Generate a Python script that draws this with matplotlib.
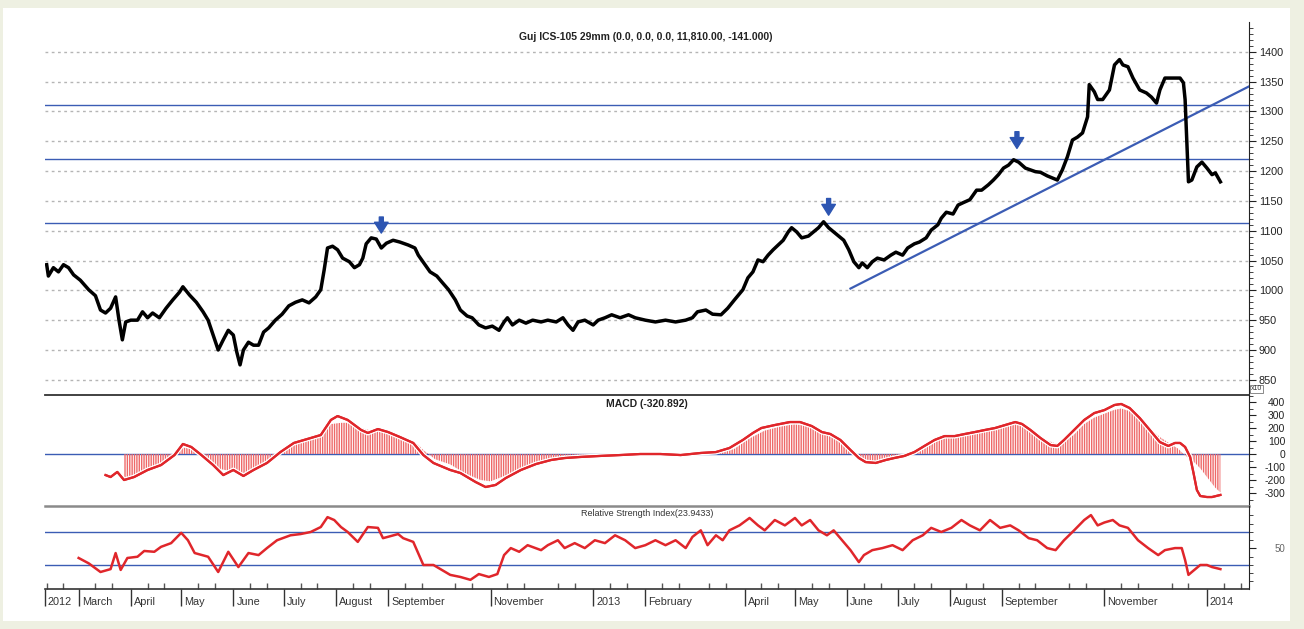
import numpy as np
import pandas as pd
import matplotlib
matplotlib.use('Agg')
import matplotlib.pyplot as pl
import matplotlib.dates as mdates
import matplotlib.patheffects as pe
import matplotlib.transforms as mtransforms
from matplotlib import font_manager
from matplotlib.patches import Rectangle

# day 0 of the chart
start = pd.Timestamp('2012-02-10')

price_day = [1, 2, 5, 8, 11, 14, 17, 21, 26, 30, 33, 36, 39, 42, 44, 46, 48, 51, 55, 58,
             61, 64, 68, 72, 76, 80, 82, 86, 90, 94, 97, 100, 103, 106, 109, 112, 114, 116, 118, 121,
             124, 127, 130, 133, 137, 141, 145, 149, 153, 157, 161, 164, 166, 168, 171, 174, 177, 181, 184, 187,
             189, 191, 194, 197, 200, 203, 207, 211, 216, 220, 222, 226, 229, 233, 236, 240, 244, 247, 251, 254,
             258, 262, 266, 270, 273, 275, 278, 282, 286, 290, 295, 299, 304, 308, 311, 314, 317, 321, 326, 329,
             333, 337, 342, 347, 351, 357, 363, 369, 375, 381, 385, 388, 393, 397, 402, 406, 410, 415, 418, 421,
             424, 427, 430, 433, 436, 439, 442, 444, 447, 450, 454, 457, 460, 463, 466, 469, 472, 475, 478, 481,
             484, 486, 489, 492, 495, 499, 503, 506, 510, 513, 517, 520, 524, 527, 531, 533, 536, 540, 543, 546,
             550, 554, 557, 561, 564, 567, 570, 573, 576, 579, 583, 586, 589, 592, 596, 602, 605, 608, 611, 614,
             617, 620, 621, 624, 626, 629, 633, 636, 639, 641, 644, 647, 651, 655, 658, 661, 663, 666, 675, 677,
             678, 680, 682, 685, 688, 691, 694, 696, 699]
price_val = [1043, 1024, 1038, 1031, 1043, 1038, 1026, 1017, 1001, 991, 967, 962, 970, 989, 950, 917, 947, 950, 950, 964,
             954, 962, 954, 970, 984, 997, 1006, 992, 980, 964, 950, 925, 900, 917, 933, 925, 897, 875, 900, 913,
             908, 908, 930, 937, 950, 960, 974, 980, 984, 979, 989, 1001, 1034, 1071, 1074, 1068, 1054, 1048, 1038, 1043,
             1054, 1078, 1088, 1086, 1071, 1079, 1084, 1081, 1076, 1071, 1059, 1043, 1031, 1024, 1014, 1001, 984, 967, 957, 954,
             942, 937, 940, 933, 947, 954, 942, 950, 945, 950, 947, 950, 947, 954, 942, 933, 947, 950, 942, 950,
             954, 959, 954, 959, 954, 950, 947, 950, 947, 950, 954, 964, 967, 960, 959, 970, 984, 1001, 1021, 1031,
             1051, 1048, 1059, 1068, 1076, 1084, 1098, 1105, 1098, 1088, 1091, 1098, 1105, 1115, 1105, 1098, 1091, 1084, 1068, 1048,
             1038, 1046, 1038, 1048, 1054, 1051, 1059, 1064, 1059, 1071, 1078, 1081, 1088, 1101, 1110, 1121, 1131, 1128, 1143, 1147,
             1152, 1168, 1168, 1177, 1185, 1194, 1205, 1210, 1219, 1215, 1205, 1202, 1199, 1198, 1192, 1185, 1202, 1224, 1252, 1257,
             1264, 1291, 1345, 1333, 1320, 1320, 1336, 1378, 1387, 1378, 1375, 1356, 1336, 1331, 1324, 1314, 1336, 1356, 1356, 1348,
             1320, 1182, 1185, 1207, 1215, 1205, 1194, 1197, 1182]

levels = [1113, 1220, 1310]
trend_day = [479, 716]
trend_val = [1003, 1342]
arrow_day = [200, 466, 578]
arrow_tail = [1123, 1154, 1266]
arrow_tip = [1096, 1126, 1238]

macd_day = [36, 39, 43, 47, 53, 61, 69, 77, 82, 87, 93, 100, 106, 112, 118, 124, 132, 140, 148, 158,
            164, 170, 174, 180, 188, 192, 198, 204, 211, 219, 225, 231, 241, 247, 256, 262, 268, 274, 283, 292,
            301, 309, 318, 330, 342, 354, 366, 378, 390, 399, 407, 415, 421, 426, 434, 443, 449, 456, 462, 467,
            473, 479, 484, 488, 494, 500, 505, 511, 517, 523, 529, 535, 541, 547, 553, 559, 565, 571, 577, 581,
            586, 592, 598, 602, 606, 612, 618, 624, 630, 636, 640, 645, 651, 657, 663, 668, 672, 675, 678, 681,
            683, 685, 687, 691, 694, 699]
macd_val = [-162, -177, -138, -200, -177, -123, -85, -8, 77, 54, -8, -85, -162, -123, -169, -123, -69, 15, 85, 123,
            146, 262, 292, 262, 185, 162, 192, 169, 131, 85, -8, -69, -123, -146, -215, -254, -238, -185, -123, -77,
            -46, -31, -23, -15, -8, 0, 0, -8, 8, 15, 46, 108, 162, 200, 223, 246, 246, 215, 169, 154,
            108, 31, -31, -62, -69, -46, -31, -15, 15, 62, 108, 138, 138, 154, 169, 185, 200, 223, 246, 231,
            185, 123, 69, 62, 108, 185, 262, 315, 338, 377, 385, 354, 277, 185, 92, 62, 85, 85, 54, -23,
            -146, -277, -323, -331, -331, -315]

hist_day = [47, 51, 57, 63, 69, 75, 78, 82, 87, 92, 96, 102, 108, 114, 119, 125, 131, 137, 140, 146,
            152, 158, 164, 170, 176, 182, 188, 194, 200, 206, 211, 217, 222, 225, 228, 232, 241, 250, 259, 265,
            271, 277, 286, 298, 309, 324, 342, 366, 390, 402, 410, 419, 428, 437, 446, 455, 464, 473, 479, 483,
            486, 494, 503, 511, 516, 523, 532, 541, 550, 559, 568, 577, 583, 589, 595, 601, 606, 612, 618, 624,
            630, 636, 640, 645, 651, 657, 663, 669, 674, 677, 681, 684, 687, 690, 693, 696, 699]
hist_val = [-200, -180, -165, -110, -80, -40, 0, 50, 40, 0, -40, -110, -125, -140, -160, -120, -80, -30, 0, 60,
            90, 110, 150, 230, 240, 240, 200, 180, 180, 160, 140, 110, 70, 30, 0, -40, -80, -150, -200, -210,
            -180, -150, -100, -50, -30, -20, -10, -5, 5, 10, 40, 120, 180, 210, 230, 210, 170, 120, 40, 0,
            -40, -60, -40, -10, 0, 40, 110, 150, 170, 180, 200, 230, 220, 170, 110, 80, 90, 150, 230, 280,
            310, 340, 350, 330, 270, 200, 130, 80, 40, 0, -40, -70, -110, -160, -210, -260, -295]

rsi_day = [20, 26, 33, 39, 42, 45, 49, 55, 59, 65, 69, 75, 81, 85, 89, 97, 103, 109, 115, 121,
           127, 132, 138, 146, 152, 158, 164, 168, 172, 176, 180, 186, 192, 198, 201, 210, 213, 219, 225, 231,
           241, 247, 253, 258, 264, 269, 273, 277, 282, 287, 295, 299, 305, 309, 315, 321, 327, 333, 339, 345,
           351, 357, 363, 369, 375, 381, 385, 390, 394, 399, 403, 407, 413, 419, 424, 428, 434, 440, 446, 450,
           455, 460, 465, 469, 474, 479, 484, 487, 492, 498, 504, 510, 516, 522, 527, 533, 539, 545, 550, 556,
           562, 568, 574, 579, 585, 590, 596, 601, 606, 612, 618, 622, 626, 630, 635, 639, 644, 650, 656, 662,
           666, 672, 676, 678, 680, 682, 687, 691, 694, 699]
rsi_val = [38.5, 32, 21.5, 25, 44.5, 24, 38.5, 40, 47, 46, 52, 56.5, 69, 60, 44.5, 40, 21.5, 46, 27.5, 44.5,
           42, 50.5, 60, 66, 67.5, 70, 76, 88, 84.5, 76, 70, 58, 76, 75, 62.5, 67.5, 62.5, 58, 30, 30,
           18, 15.5, 12, 19, 15.5, 19, 42, 50.5, 46, 54, 48, 54, 60, 50.5, 56.5, 50.5, 60, 56.5, 66, 60,
           50.5, 54, 60, 54, 60, 50.5, 64, 72, 54, 66, 60, 72, 78, 87, 78, 72, 84.5, 78, 87, 78,
           84.5, 72, 66, 72, 60, 48, 33.5, 42, 48, 50.5, 54, 48, 60, 66, 75, 70, 75, 84.5, 78, 72,
           84.5, 75, 78, 72, 62.5, 60, 50.5, 48, 60, 72, 84.5, 90.5, 78, 81.5, 84.5, 78, 75, 60, 50.5, 42,
           48, 50.5, 50.5, 36, 18, 21.5, 30, 30, 27.5, 25]
rsi_lines = [70, 30]

tick_dates = ['2012-02-10', '2012-03-01', '2012-04-01', '2012-05-01', '2012-06-01', '2012-07-01',
              '2012-08-01', '2012-09-01', '2012-11-01', '2013-01-01', '2013-02-01', '2013-04-01',
              '2013-05-01', '2013-06-01', '2013-07-01', '2013-08-01', '2013-09-01', '2013-11-01', '2014-01-01']
tick_labels = ['2012', 'March', 'April', 'May', 'June', 'July', 'August', 'September', 'November',
               '2013', 'February', 'April', 'May', 'June', 'July', 'August', 'September', 'November', '2014']


def to_dates(days):
    return start + pd.to_timedelta(np.array(days, dtype=float), unit='D')


names = set(f.name for f in font_manager.fontManager.ttflist)
fam = 'Liberation Sans Narrow' if 'Liberation Sans Narrow' in names else 'Liberation Sans'
matplotlib.rcParams['font.family'] = [fam, 'DejaVu Sans']
matplotlib.rcParams['axes.unicode_minus'] = False
matplotlib.rcParams['hatch.linewidth'] = 1.0
matplotlib.rcParams['hatch.color'] = '#ee6868'

W, H = 1304, 629
fig = pl.figure(figsize=(W / 100, H / 100), dpi=100, facecolor='#eef0e2')
fig.patches.append(Rectangle((3 / W, 1 - 621 / H), 1287 / W, 613 / H, transform=fig.transFigure,
                             facecolor='white', edgecolor='none', zorder=-10))


def px_axes(top, bottom, **kw):
    return fig.add_axes([45 / W, 1 - bottom / H, 1204 / W, (bottom - top) / H], **kw)


ax1 = px_axes(22, 395)
ax2 = px_axes(395, 506, sharex=ax1)
ax3 = px_axes(506, 589, sharex=ax1)

blue = '#3b5cb4'
red = '#e0262b'

for ax in (ax1, ax2, ax3):
    ax.patch.set_visible(False)
    ax.yaxis.tick_right()
    ax.spines['left'].set_visible(False)
    ax.spines['top'].set_visible(False)
    ax.spines['right'].set_color('#222222')
    ax.tick_params(axis='y', which='both', direction='out', colors='#222222', labelsize=7.8, pad=2)
    ax.tick_params(axis='y', which='major', length=5)
    ax.tick_params(axis='y', which='minor', length=3)
    ax.tick_params(axis='x', which='both', bottom=False, labelbottom=False)

# price panel
ax1.set_ylim(824.5, 1450)
for v in range(850, 1401, 50):
    ax1.axhline(v, color='#b5b5b5', lw=1, ls=(0, (2, 2.5)), zorder=1)
for v in levels:
    ax1.axhline(v, color=blue, lw=1.0, zorder=2)
ax1.plot(to_dates(trend_day), trend_val, color=blue, lw=1.6, zorder=3)
ax1.plot(to_dates(price_day), price_val, color='black', lw=2.5, zorder=4, solid_joinstyle='round')
for d, t0, t1 in zip(arrow_day, arrow_tail, arrow_tip):
    ax1.annotate('', xy=(to_dates([d])[0], t1), xytext=(to_dates([d])[0], t0),
                 arrowprops=dict(arrowstyle='simple,head_length=0.6,head_width=0.75,tail_width=0.22',
                                 color='#2d55b2', mutation_scale=13, shrinkA=0, shrinkB=0), zorder=5)
ax1.set_yticks(range(850, 1401, 50))
ax1.set_yticks(range(830, 1450, 10), minor=True)
ax1.spines['bottom'].set_color('#333333')
ax1.spines['bottom'].set_linewidth(1.3)
fig.text(646 / W, 1 - 37 / H, 'Guj ICS-105 29mm (0.0, 0.0, 0.0, 11,810.00, -141.000)',
         ha='center', va='center', fontsize=7.5, fontweight='bold', color='#222222')
fig.text(1251 / W, 1 - 389 / H, 'x10', ha='left', va='center', fontsize=5, color='#333333',
         bbox=dict(boxstyle='square,pad=0.12', facecolor='white', edgecolor='#777777', lw=0.6), zorder=10)

# MACD panel
ax2.set_ylim(-400, 454)
ax2.axhline(0, color=blue, lw=1.0, zorder=1)
hd = to_dates(hist_day)
ax2.fill_between(hd, 0, hist_val, facecolor='none', edgecolor='#ee6868', hatch='|||||||', lw=0, zorder=2)
ax2.plot(to_dates(macd_day), macd_val, color=red, lw=1.6, zorder=3,
         path_effects=[pe.withStroke(linewidth=3.6, foreground='white'), pe.Normal()])
ax2.set_yticks(range(-300, 401, 100))
ax2.set_yticks(range(-350, 451, 50), minor=True)
ax2.tick_params(axis='y', labelsize=7.5, pad=21)
for lab in ax2.get_yticklabels():
    lab.set_horizontalalignment('right')
ax2.spines['bottom'].set_color('#8a8a8a')
ax2.spines['bottom'].set_linewidth(1.8)
fig.text(647 / W, 1 - 404 / H, 'MACD (-320.892)', ha='center', va='center', fontsize=7.5,
         fontweight='bold', color='#222222')

# RSI panel
ax3.set_ylim(0.9, 101.5)
for v in rsi_lines:
    ax3.axhline(v, color=blue, lw=1.0, zorder=1)
ax3.plot(to_dates(rsi_day), rsi_val, color=red, lw=1.8, zorder=3)
ax3.set_yticks([50])
ax3.set_yticks(range(10, 100, 10), minor=True)
ax3.tick_params(axis='y', labelsize=7, pad=21, labelcolor='#666666')
for lab in ax3.get_yticklabels():
    lab.set_horizontalalignment('right')
ax3.spines['bottom'].set_color('#333333')
ax3.spines['bottom'].set_linewidth(1.2)
fig.text(647 / W, 1 - 513 / H, 'Relative Strength Index(23.9433)', ha='center', va='center',
         fontsize=6.5, color='#333333')

# date axis
ax3.set_xlim(start, start + pd.Timedelta(days=716))
ax3.set_xticks(pd.to_datetime(tick_dates))
ax3.set_xticklabels(tick_labels)
ax3.xaxis.set_minor_locator(mdates.DayLocator(bymonthday=[11, 21]))
ax3.tick_params(axis='x', which='major', bottom=True, labelbottom=True, direction='out',
                length=12, width=1, colors='#333333', labelsize=7.8, pad=-6)
ax3.tick_params(axis='x', which='minor', bottom=True, direction='in', length=4, width=1, colors='#555555')
shift = mtransforms.ScaledTranslation(3 / 100, 0, fig.dpi_scale_trans)
for lab in ax3.get_xticklabels():
    lab.set_horizontalalignment('left')
    lab.set_verticalalignment('top')
    lab.set_transform(lab.get_transform() + shift)

pl.savefig('out.png', dpi=100, facecolor=fig.get_facecolor())
